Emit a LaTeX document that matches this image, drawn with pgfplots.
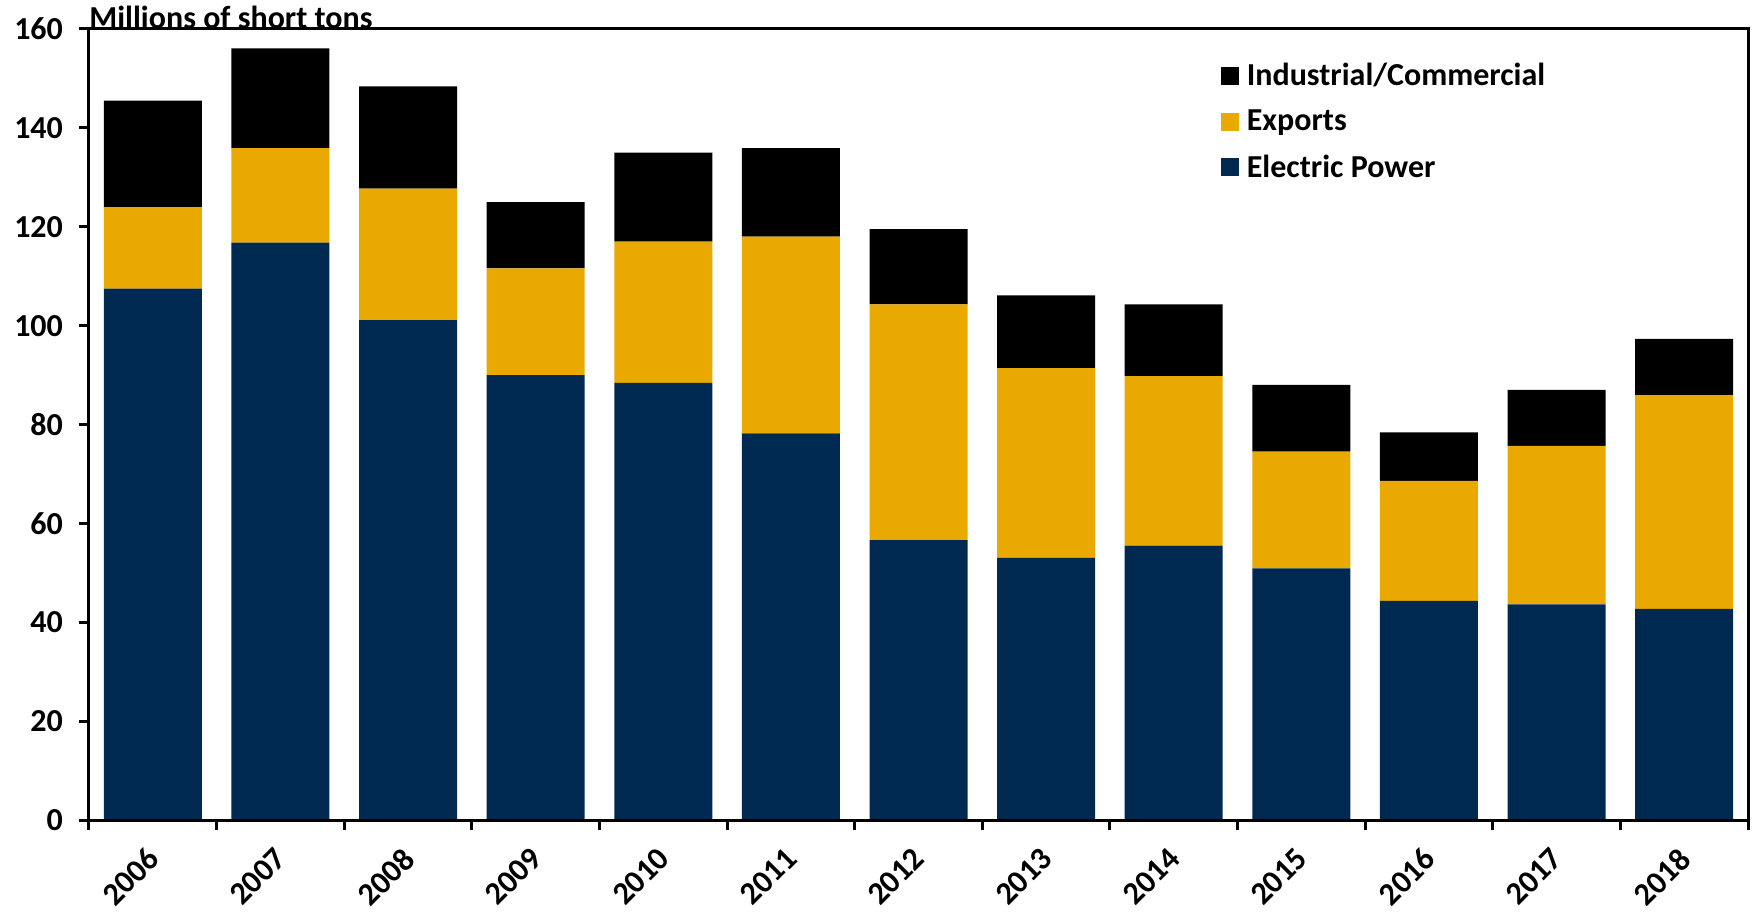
\documentclass[border=0pt]{standalone}
\usepackage{pgfplots}
\pgfplotsset{compat=1.18}
\usepackage{fontspec}
\setmainfont{Carlito}

\definecolor{navy}{RGB}{0,41,82}
\definecolor{gold}{RGB}{233,169,0}

\begin{document}
\begin{tikzpicture}
\begin{axis}[
  scale only axis,
  width=829.5pt, height=395.5pt,
  ybar stacked, bar width=49pt,
  xmin=-0.5, xmax=12.5, ymin=0, ymax=160,
  clip=false,
  ytick={0,20,...,160},
  xtick={0,...,12},
  xticklabels={2006,2007,2008,2009,2010,2011,2012,2013,2014,2015,2016,2017,2018},
  minor xtick={-0.5,0.5,...,12.5},
  major x tick style={draw=none},
  tick align=outside,
  major tick length=5pt, minor tick length=5pt,
  every tick/.style={black, line width=1.5pt},
  axis line style={line width=1.5pt},
  ytick pos=left, xtick pos=bottom,
  axis on top,
  font=\fontsize{16}{18}\selectfont\bfseries,
  /pgf/number format/assume math mode=true,
  yticklabel style={xshift=-4.5pt},
  xticklabel style={xshift=-3.5pt, yshift=-3pt, rotate=45, anchor=north east},
  legend style={draw=none, fill=none, at={(0.682,0.962)}, anchor=north west,
    row sep=6.5pt, font=\fontsize{16}{18}\selectfont\bfseries, inner sep=0pt},
  legend cell align=left,
  reverse legend,
  legend image code/.code={\fill[#1] (0pt,-4.5pt) rectangle (9pt,4.5pt);
    \path (11pt,0pt);},
]
\addplot[fill=navy, draw=none] coordinates {
 (0,107.5) (1,116.8) (2,101.1) (3,90.0) (4,88.4) (5,78.2) (6,56.6)
 (7,53.0) (8,55.5) (9,50.9) (10,44.3) (11,43.6) (12,42.7)};
\addlegendentry{Electric Power}
\addplot[fill=gold, draw=none] coordinates {
 (0,16.4) (1,19.1) (2,26.6) (3,21.6) (4,28.6) (5,39.8) (6,47.7)
 (7,38.4) (8,34.3) (9,23.6) (10,24.3) (11,32.1) (12,43.2)};
\addlegendentry{Exports}
\addplot[fill=black, draw=none] coordinates {
 (0,21.6) (1,20.2) (2,20.7) (3,13.4) (4,18.0) (5,17.9) (6,15.2)
 (7,14.7) (8,14.5) (9,13.5) (10,9.8) (11,11.3) (12,11.4)};
\addlegendentry{Industrial/Commercial}
\coordinate (O) at (rel axis cs:0,0);
\node[anchor=base west, inner sep=0pt, font=\fontsize{16}{18}\selectfont\bfseries]
  at (rel axis cs:0,1) {Millions of short tons};
\end{axis}
\pgfresetboundingbox
\path ([shift={(-44.5pt,-45.5pt)}]O) rectangle ++(878.5pt,455.5pt);
\end{tikzpicture}
\end{document}
